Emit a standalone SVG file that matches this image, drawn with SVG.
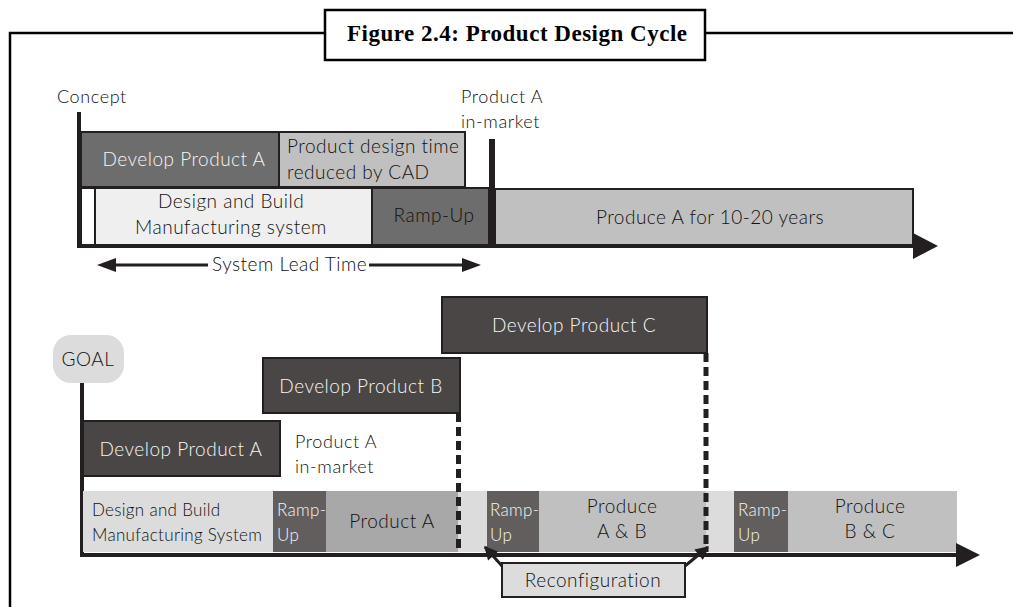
<svg xmlns="http://www.w3.org/2000/svg" width="1013" height="607" viewBox="0 0 1013 607">
<style>
.t{font-family:Lato,"Liberation Sans",sans-serif;font-size:19px;font-weight:300;letter-spacing:0.5px;fill:#111}
.s{font-size:18px;letter-spacing:0.6px}
.r{font-size:17px;letter-spacing:0.3px}
.w{fill:#f6f6f6}
.m{text-anchor:middle}
.bx{stroke:#231f20;stroke-width:2}
.dk{fill:#4a4646;stroke:#231f20;stroke-width:2}
.ax{stroke:#231f20;stroke-width:4;fill:none}
.dash{stroke:#231f20;stroke-width:5;stroke-dasharray:9 5;fill:none}
.frame{stroke:#000;stroke-width:2.5;fill:none}
.hd{fill:#231f20}
</style>
<defs>
<marker id="ah2" viewBox="0 0 10 10" refX="9" refY="5" markerWidth="5" markerHeight="4.5" markerUnits="strokeWidth" orient="auto"><path d="M0,0 L10,5 L0,10 z" fill="#231f20"/></marker>
</defs>
<rect width="1013" height="607" fill="#fff"/>
<g id="frame">
<path class="frame" d="M10,607 V33 H325 M705,33 H1013"/>
<rect x="325" y="10" width="380" height="50" fill="#fff" stroke="#000" stroke-width="2.5"/>
<text x="347" y="41" textLength="340" lengthAdjust="spacing" style="font-family:'Liberation Serif',serif;font-weight:bold;font-size:23px;fill:#000">Figure 2.4: Product Design Cycle</text>
</g>
<g id="top-timeline">
<g id="concept"><rect x="77" y="112" width="4" height="136" fill="#231f20"/><text class="t s" x="57" y="103">Concept</text></g>
<g id="top-develop-a"><rect class="bx" x="81" y="132" width="198" height="55" fill="#6e6d6d"/><text class="t w m" x="184" y="166">Develop Product A</text></g>
<g id="top-cad"><rect class="bx" x="279" y="132" width="186" height="55" fill="#c0c0c0"/><text class="t" x="287" y="153">Product design time</text><text class="t" x="287" y="179">reduced by CAD</text></g>
<g id="top-design"><rect class="bx" x="81" y="188" width="14" height="57" fill="#fff"/><rect class="bx" x="95" y="188" width="277" height="57" fill="#efefef"/><text class="t m" x="231" y="208">Design and Build</text><text class="t m" x="231" y="234">Manufacturing system</text></g>
<g id="top-ramp"><rect class="bx" x="372" y="188" width="117" height="57" fill="#6e6d6d"/><text class="t m" x="434" y="222">Ramp-Up</text></g>
<g id="top-produce"><rect class="bx" x="495" y="189" width="418" height="56" fill="#c0c0c0"/><text class="t m" x="710" y="224">Produce A for 10-20 years</text></g>
<g id="top-inmarket"><rect x="489" y="139" width="6" height="107" fill="#231f20"/><text class="t s" x="461" y="103">Product A</text><text class="t s" x="461" y="128">in-market</text></g>
</g>
<g id="bottom-timeline">
<g id="goal"><rect x="53" y="335" width="71" height="48" rx="18" fill="#dcdcdc"/><text class="t s m" x="88" y="366" style="font-size:19px">GOAL</text><rect x="80" y="383" width="4" height="172" fill="#231f20"/></g>
<g id="row">
<rect x="83" y="491" width="190" height="61" fill="#dcdcdc"/>
<rect x="273" y="491" width="53" height="61" fill="#625e5e"/>
<rect x="326" y="491" width="132" height="61" fill="#a8a8a8"/>
<rect x="458" y="491" width="29" height="61" fill="#dcdcdc"/>
<rect x="487" y="491" width="52" height="61" fill="#625e5e"/>
<rect x="539" y="491" width="167" height="61" fill="#c0c0c0"/>
<rect x="706" y="491" width="28" height="61" fill="#dcdcdc"/>
<rect x="734" y="491" width="54" height="61" fill="#625e5e"/>
<rect x="788" y="491" width="169" height="61" fill="#c0c0c0"/>
<text class="t r" x="92" y="516">Design and Build</text><text class="t r" x="92" y="541">Manufacturing System</text>
<text class="t r w" x="277" y="516">Ramp-</text><text class="t r w" x="277" y="541">Up</text>
<text class="t m" x="392" y="528">Product A</text>
<text class="t r w" x="490" y="516">Ramp-</text><text class="t r w" x="490" y="541">Up</text>
<text class="t m" x="622" y="513">Produce</text><text class="t m" x="622" y="538">A &amp; B</text>
<text class="t r w" x="738" y="516">Ramp-</text><text class="t r w" x="738" y="541">Up</text>
<text class="t m" x="870" y="513">Produce</text><text class="t m" x="870" y="538">B &amp; C</text>
</g>
<g id="bottom-develop-a"><rect class="dk" x="83" y="421" width="197" height="55"/><text class="t w m" x="181" y="456">Develop Product A</text></g>
<g id="bottom-develop-b"><rect class="dk" x="263" y="358" width="197" height="55"/><text class="t w m" x="361" y="393">Develop Product B</text></g>
<g id="bottom-develop-c"><rect class="dk" x="442" y="297" width="265" height="56"/><text class="t w m" x="574" y="332">Develop Product C</text></g>
<g id="bottom-inmarket"><text class="t s" x="295" y="448">Product A</text><text class="t s" x="295" y="473">in-market</text></g>
<g id="reconfig"><rect class="bx" x="502" y="563" width="183" height="34" fill="#dcdcdc"/><text class="t m" x="593" y="587">Reconfiguration</text></g>
</g>
<g id="connectors">
<path class="ax" d="M78,246 H915"/><polygon class="hd" points="913,233 938,246 913,259"/>
<path class="ax" d="M80,555 H958"/><polygon class="hd" points="956,543 980,555 956,567"/>
<path d="M208,265 H112" stroke="#231f20" stroke-width="3"/><polygon class="hd" points="97,265 116,258 116,272"/>
<text class="t" x="212" y="271">System Lead Time</text>
<path d="M369,265 H466" stroke="#231f20" stroke-width="3"/><polygon class="hd" points="481,265 462,258 462,272"/>
<path class="dash" d="M458.5,413 V552"/>
<path class="dash" d="M706,353 V552"/>
<path d="M502,566 L485,547" stroke="#231f20" stroke-width="3" marker-end="url(#ah2)"/>
<path d="M685,566 L708,547" stroke="#231f20" stroke-width="3" marker-end="url(#ah2)"/>
</g>
</svg>
